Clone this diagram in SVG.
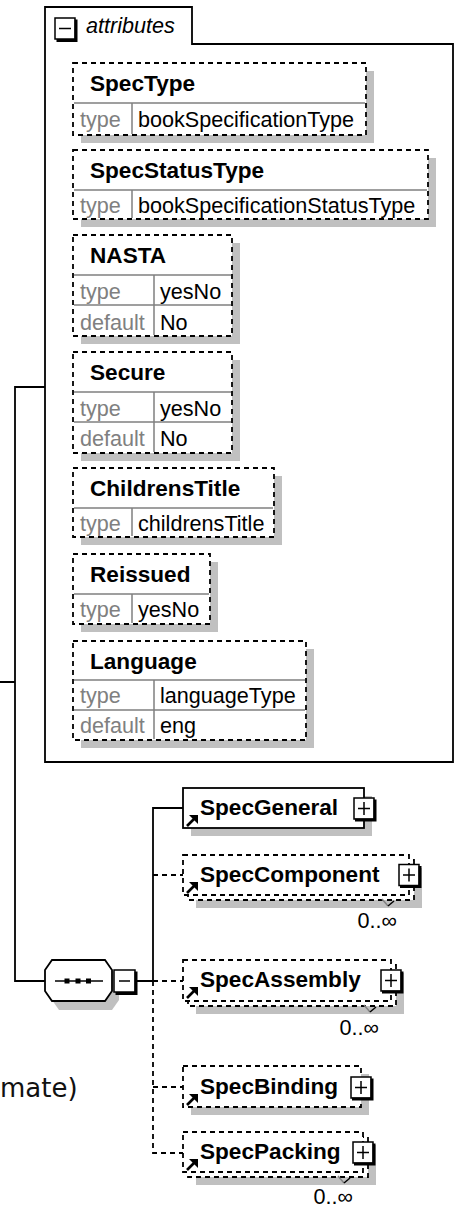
<svg xmlns="http://www.w3.org/2000/svg" width="456" height="1207" viewBox="0 0 456 1207">
<style>
.bg{fill:#fff}
.box{fill:#fff;stroke:#000;stroke-width:1.8}
.dash{stroke-dasharray:5 4}
.sh{fill:#c0c0c0}
.grid{stroke:#808080;stroke-width:1.5;fill:none}
.conn{stroke:#000;stroke-width:1.8;fill:none}
.name{font-family:"Liberation Sans",Arial,sans-serif;font-weight:bold;font-size:22.6px;fill:#000}
.lbl{font-family:"Liberation Sans",Arial,sans-serif;font-size:21.6px;fill:#808080}
.val{font-family:"Liberation Sans",Arial,sans-serif;font-size:21.6px;fill:#000}
.occ{font-family:"Liberation Sans",Arial,sans-serif;font-size:21.6px;fill:#000;text-anchor:end}
.btn{fill:#fff;stroke:#000;stroke-width:1.5}
.btn3d{fill:none;stroke:#000;stroke-width:3}
.sym{stroke:#000;stroke-width:1.5;fill:none}
.tick{stroke:#808080;stroke-width:1.5;fill:none}
</style>
<defs>
<g id="ref">
<path d="M0,11 L7,4" stroke="#000" stroke-width="2.6" fill="none"/>
<polygon points="2,0 11,0 11,9" fill="#000"/>
</g>
<g id="plus">
<rect class="btn" x="-10" y="-10.5" width="20" height="21"/>
<path class="btn3d" d="M11,-9 V11.5 H-9"/>
<path class="sym" d="M-6,0 H6 M0,-6.5 V6.5"/>
</g>
</defs>
<rect class="bg" x="0" y="0" width="456" height="1207"/>

<g id="connectors">
<path class="conn" d="M0,682 H15 M45,387 H15 V981 H45"/>
<path class="conn" d="M137,981 H153 M183,808 H153 V981"/>
<path class="conn dash" d="M153,981 V1153 H183 M153,875 H183 M153,981 H183 M153,1087 H183"/>
</g>

<g id="attributes">
<path class="box" d="M45,762 V7 H192 V44 H453 V762 Z" stroke-width="1.6"/>
<rect class="btn" x="55" y="18" width="20" height="21"/>
<path class="btn3d" d="M76,19.5 V40.5 H56.5"/>
<path class="sym" d="M59,28.5 H71"/>
<text x="86" y="33" font-family="'Liberation Sans',Arial,sans-serif" font-style="italic" font-size="21.6px" fill="#000">attributes</text>
</g>

<g id="attr-SpecType">
<rect class="sh" x="81" y="71" width="293" height="72"/>
<rect class="box dash" x="73" y="63" width="293" height="72"/>
<path class="grid" d="M74,103 H365 M132,103 V134"/>
<text class="name" x="90" y="91">SpecType</text>
<text class="lbl" x="80" y="127">type</text>
<text class="val" x="138" y="127">bookSpecificationType</text>
</g>

<g id="attr-SpecStatusType">
<rect class="sh" x="81" y="158" width="355" height="69"/>
<rect class="box dash" x="73" y="150" width="355" height="69"/>
<path class="grid" d="M74,190 H427 M132,190 V218"/>
<text class="name" x="90" y="178">SpecStatusType</text>
<text class="lbl" x="80" y="213">type</text>
<text class="val" x="138" y="213">bookSpecificationStatusType</text>
</g>

<g id="attr-NASTA">
<rect class="sh" x="81" y="243" width="159" height="101"/>
<rect class="box dash" x="73" y="235" width="159" height="101"/>
<path class="grid" d="M74,275 H231 M74,305 H231 M154,275 V335"/>
<text class="name" x="90" y="263">NASTA</text>
<text class="lbl" x="80" y="299">type</text>
<text class="val" x="160" y="299">yesNo</text>
<text class="lbl" x="80" y="330">default</text>
<text class="val" x="160" y="330">No</text>
</g>

<g id="attr-Secure">
<rect class="sh" x="81" y="360" width="159" height="101"/>
<rect class="box dash" x="73" y="352" width="159" height="101"/>
<path class="grid" d="M74,392 H231 M74,422 H231 M154,392 V452"/>
<text class="name" x="90" y="380">Secure</text>
<text class="lbl" x="80" y="416">type</text>
<text class="val" x="160" y="416">yesNo</text>
<text class="lbl" x="80" y="446">default</text>
<text class="val" x="160" y="446">No</text>
</g>

<g id="attr-ChildrensTitle">
<rect class="sh" x="81" y="476" width="201" height="69"/>
<rect class="box dash" x="73" y="468" width="201" height="69"/>
<path class="grid" d="M74,508 H273 M132,508 V536"/>
<text class="name" x="90" y="496">ChildrensTitle</text>
<text class="lbl" x="80" y="531">type</text>
<text class="val" x="138" y="531">childrensTitle</text>
</g>

<g id="attr-Reissued">
<rect class="sh" x="81" y="562" width="137" height="70"/>
<rect class="box dash" x="73" y="554" width="137" height="70"/>
<path class="grid" d="M74,594 H209 M132,594 V623"/>
<text class="name" x="90" y="582">Reissued</text>
<text class="lbl" x="80" y="617">type</text>
<text class="val" x="138" y="617">yesNo</text>
</g>

<g id="attr-Language">
<rect class="sh" x="81" y="649" width="233" height="99"/>
<rect class="box dash" x="73" y="641" width="233" height="99"/>
<path class="grid" d="M74,680 H305 M74,710 H305 M154,680 V739"/>
<text class="name" x="90" y="669">Language</text>
<text class="lbl" x="80" y="703">type</text>
<text class="val" x="160" y="703">languageType</text>
<text class="lbl" x="80" y="733">default</text>
<text class="val" x="160" y="733">eng</text>
</g>

<g id="sequence">
<polygon class="sh" points="59,969 112,969 119,979 119,1000 112,1010 59,1010 52,1000 52,979"/>
<polygon class="box" points="52,960 105,960 112,970 112,991 105,1001 52,1001 45,991 45,970"/>
<path class="sym" d="M55,981 H103"/>
<rect x="64.5" y="978.5" width="5" height="5" fill="#000"/>
<rect x="75.5" y="978.5" width="5" height="5" fill="#000"/>
<rect x="86" y="978.5" width="5" height="5" fill="#000"/>
<rect class="btn" x="114" y="970" width="21" height="22"/>
<path class="btn3d" d="M136,971.5 V993.5 H115.5"/>
<path class="sym" d="M119,981 H130"/>
</g>

<g id="el-SpecGeneral">
<rect class="sh" x="191" y="796" width="181" height="40"/>
<rect class="box" x="183" y="788" width="181" height="40"/>
<use href="#ref" x="187" y="815"/>
<text class="name" x="200" y="815">SpecGeneral</text>
<use href="#plus" x="364" y="808.5"/>
</g>

<g id="el-SpecComponent">
<rect class="sh" x="196" y="868" width="226" height="40"/>
<rect class="box dash" x="188" y="860" width="226" height="40"/>
<rect class="box dash" x="183" y="855" width="226" height="40"/>
<use href="#ref" x="187" y="882"/>
<text class="name" x="200" y="882">SpecComponent</text>
<use href="#plus" x="409" y="875"/>
<path class="tick" d="M382,899 L388,906"/>
<path class="sym" d="M388,906 L394,901"/>
<text class="occ" x="397" y="928">0..∞</text>
</g>

<g id="el-SpecAssembly">
<rect class="sh" x="196" y="973" width="208" height="41"/>
<rect class="box dash" x="188" y="965" width="208" height="41"/>
<rect class="box dash" x="183" y="960" width="208" height="41"/>
<use href="#ref" x="187" y="987"/>
<text class="name" x="200" y="987">SpecAssembly</text>
<use href="#plus" x="391" y="980.5"/>
<path class="tick" d="M364,1005 L370,1012"/>
<path class="sym" d="M370,1012 L376,1007"/>
<text class="occ" x="379" y="1035">0..∞</text>
</g>

<g id="el-SpecBinding">
<rect class="sh" x="191" y="1074" width="178" height="41"/>
<rect class="box dash" x="183" y="1066" width="178" height="41"/>
<use href="#ref" x="187" y="1094"/>
<text class="name" x="200" y="1094">SpecBinding</text>
<use href="#plus" x="361" y="1087.5"/>
</g>

<g id="el-SpecPacking">
<rect class="sh" x="196" y="1145" width="180" height="40"/>
<rect class="box dash" x="188" y="1137" width="180" height="40"/>
<rect class="box dash" x="183" y="1132" width="180" height="40"/>
<use href="#ref" x="187" y="1159"/>
<text class="name" x="200" y="1159">SpecPacking</text>
<use href="#plus" x="363" y="1152.5"/>
<path class="tick" d="M338,1176 L344,1183"/>
<path class="sym" d="M344,1183 L350,1178"/>
<text class="occ" x="353" y="1204">0..∞</text>
</g>

<text x="0" y="1097" font-family="'DejaVu Sans',Verdana,sans-serif" font-size="26px" fill="#111">mate)</text>
</svg>
